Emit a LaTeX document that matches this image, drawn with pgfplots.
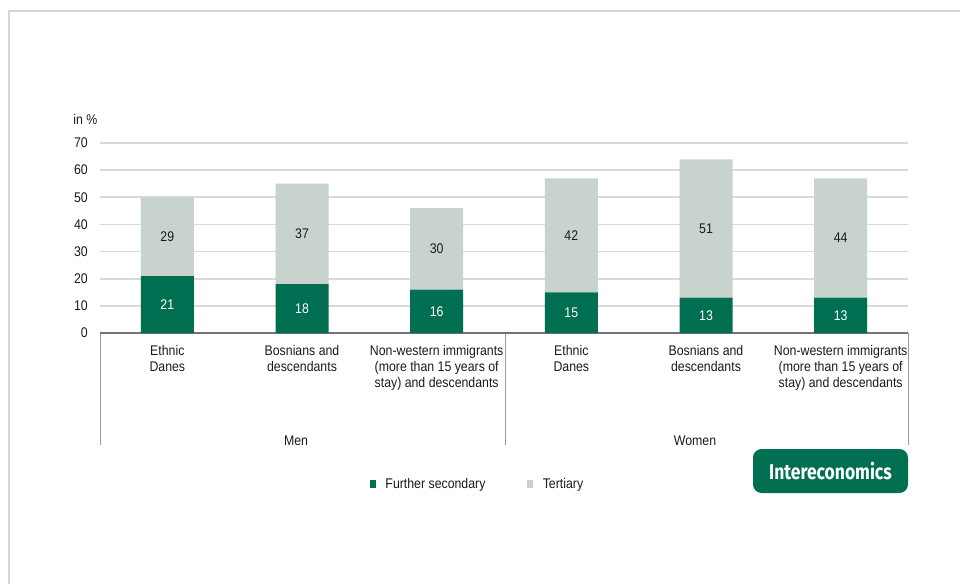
\documentclass[border=0pt]{standalone}
\usepackage{pgfplots}
\pgfplotsset{compat=1.18}
\usepackage{fontspec}
\setmainfont{Liberation Sans}[FakeStretch=0.88]
\newfontfamily\logofont{Fira Sans}[FakeStretch=0.82]
\definecolor{igreen}{HTML}{006F51}
\definecolor{igray}{HTML}{C9D3CE}
\definecolor{gridgray}{HTML}{D9D9D9}
\definecolor{framegray}{HTML}{D5D5D5}
\definecolor{txt}{HTML}{1A1A1A}
\newcommand{\cfont}{\fontsize{10.5}{12}\selectfont}
\begin{document}
\begin{tikzpicture}
\useasboundingbox (0,0) rectangle (720pt,-438pt);
\begin{scope}[x=0.75pt,y=-0.75pt]
  \draw[framegray, line width=1.5pt] (9,584) -- (9,11) -- (960,11);
  \node[anchor=west, inner sep=0pt, text=txt, font=\cfont] at (73,119) {in \%};
  \draw[gray!80, line width=0.75pt] (100,333) -- (100,445);
  \draw[gray!80, line width=0.75pt] (505,333) -- (505,445);
  \draw[gray!80, line width=0.75pt] (908,333) -- (908,445);
  \node[inner sep=0pt, text=txt, font=\cfont] at (296,441) {Men};
  \node[inner sep=0pt, text=txt, font=\cfont] at (695,441) {Women};
  \fill[igreen, rounded corners=6.5pt] (753,449) rectangle (908,493);
  \node[text=white, font=\logofont\bfseries\fontsize{16}{19}\selectfont] at (830.5,471) {Intereconomics};
\end{scope}
\begin{axis}[
  at={(75pt,-249.75pt)}, anchor=south west,
  scale only axis, width=606pt, height=142.5pt,
  ybar stacked, bar width=39.75pt,
  xmin=-0.5, xmax=5.5, ymin=0, ymax=70,
  ytick={0,10,...,70},
  xtick={0,1,2,3,4,5},
  xticklabels={{Ethnic\\Danes},{Bosnians and\\descendants},{Non-western immigrants\\(more than 15 years of\\stay) and descendants},{Ethnic\\Danes},{Bosnians and\\descendants},{Non-western immigrants\\(more than 15 years of\\stay) and descendants}},
  xticklabel style={align=center, inner sep=0pt, yshift=-9pt, font=\cfont, text=txt},
  yticklabel style={inner sep=0pt, xshift=-9pt, font=\cfont, text=txt},
  /pgf/number format/assume math mode=true,
  major tick length=0pt,
  axis x line*=bottom, axis y line*=left,
  y axis line style={draw=none},
  x axis line style={draw=gray!90!black, line width=1pt},
  ymajorgrids, grid style={gridgray, line width=1.3pt},
  visualization depends on={rawy \as \rawy},
  nodes near coords={\pgfmathprintnumber{\rawy}},
  every node near coord/.append style={anchor=center, font=\cfont},
  legend columns=2,
  legend style={at={(rel axis cs:0.334,-0.795)}, anchor=west, draw=none, fill=none, inner sep=0pt, font=\cfont,
    nodes={inner sep=0pt, text=txt},
    /tikz/every odd column/.append style={column sep=7pt},
    /tikz/every even column/.append style={column sep=31.5pt}},
  legend image code/.code={\fill[#1] (0pt,-3pt) rectangle (4.5pt,3pt);},
]
\addplot[fill=igreen, draw=none, every node near coord/.append style={text=white}] coordinates {(0,21) (1,18) (2,16) (3,15) (4,13) (5,13)};
\addplot[fill=igray, draw=none, every node near coord/.append style={text=txt}] coordinates {(0,29) (1,37) (2,30) (3,42) (4,51) (5,44)};
\legend{Further secondary, Tertiary}
\end{axis}
\end{tikzpicture}
\end{document}
